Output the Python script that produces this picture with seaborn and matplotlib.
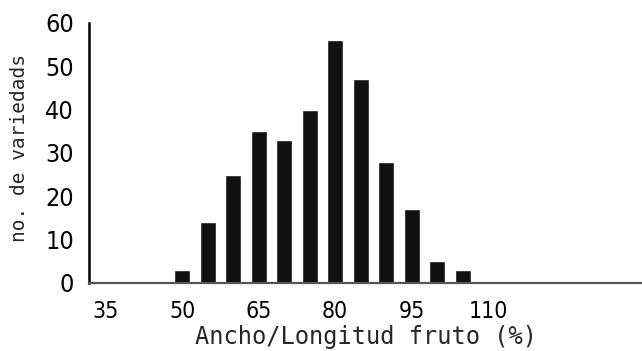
import matplotlib
matplotlib.use("Agg")
import matplotlib.pyplot as plt
import seaborn as sns

# Fruit width/length ratio classes (%) and number of varieties in each
ratio_classes = [35, 40, 45, 50, 55, 60, 65, 70, 75, 80, 85, 90, 95,
                 100, 105, 110, 115, 120, 125, 130, 135]
n_varieties = [0, 0, 0, 3, 14, 25, 35, 33, 40, 56, 47, 28, 17,
               5, 3, 0, 0, 0, 0, 0, 0]
tick_values = [35, 50, 65, 80, 95, 110]
y_ticks = [0, 10, 20, 30, 40, 50, 60]

sns.set_style("white")
plt.rcParams["font.family"] = ["DejaVu Sans"]

fig = plt.figure(figsize=(6.42, 3.51), dpi=100)
ax = fig.add_axes([0.139, 0.194, 0.861, 0.741])

labels = [str(v) for v in ratio_classes]
sns.barplot(x=labels, y=n_varieties, order=labels, color="#111111",
            saturation=1, width=0.63, ax=ax)

ax.set_xlim(-0.65, 21.04)
ax.set_ylim(0, 60)

pos = [labels.index(str(v)) for v in tick_values]
ax.set_xticks(pos)
ax.set_xticklabels([str(v) for v in tick_values], fontsize=16.5,
                   fontstretch="condensed")
ax.set_yticks(y_ticks)
ax.set_yticklabels([str(v) for v in y_ticks], fontsize=18,
                   fontstretch="condensed")
ax.tick_params(axis="both", length=0, colors="black")
ax.tick_params(axis="x", pad=12)
ax.tick_params(axis="y", pad=11)

for side in ("top", "right"):
    ax.spines[side].set_visible(False)
ax.spines["left"].set_color("black")
ax.spines["left"].set_linewidth(1.8)
ax.spines["bottom"].set_color("#555555")
ax.spines["bottom"].set_linewidth(1.6)

ax.set_xlabel("Ancho/Longitud fruto (%)", fontsize=17,
              family=["DejaVu Sans Mono"], labelpad=2)
ax.set_ylabel("no. de variedads", fontsize=14,
              family=["DejaVu Sans Mono"])
ax.yaxis.set_label_coords(-60 / 553, (283 - 148) / 260)

fig.savefig("out.png", dpi=100)
